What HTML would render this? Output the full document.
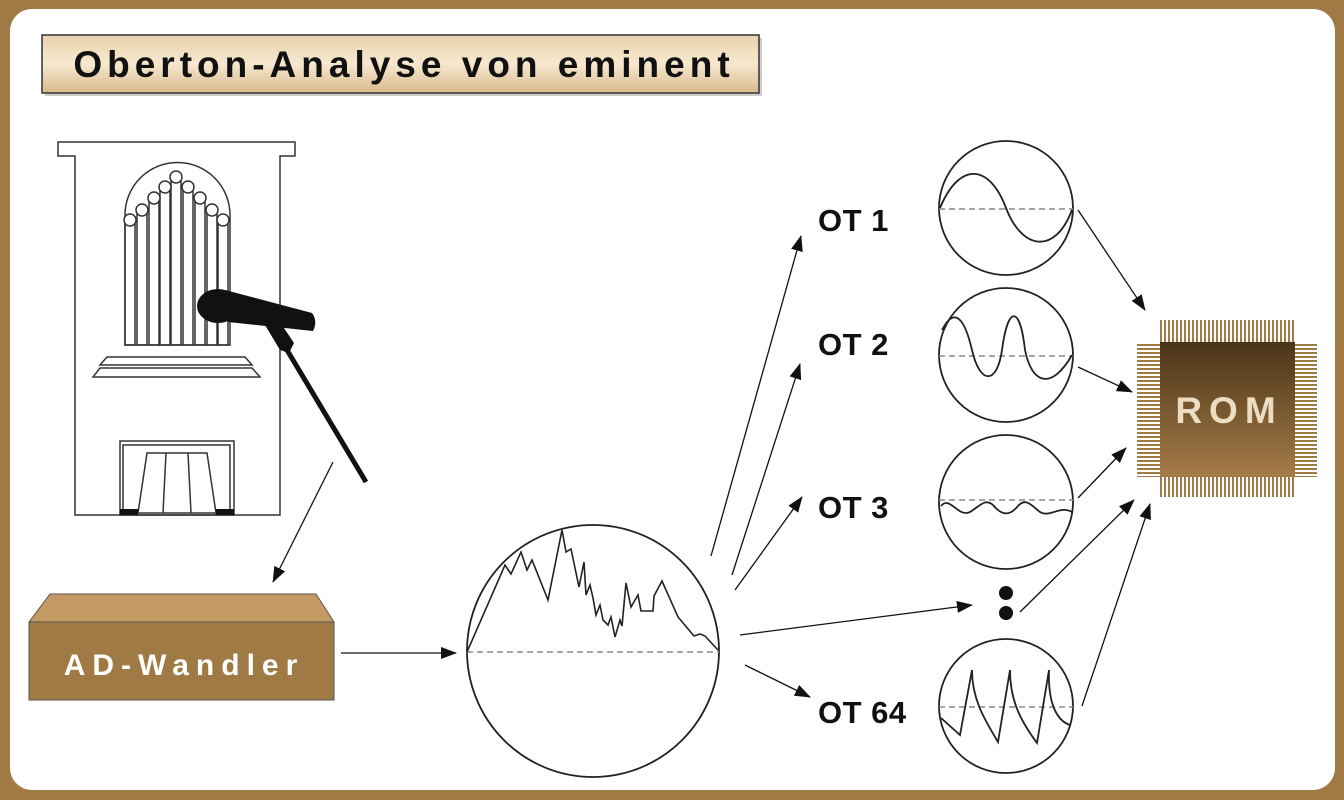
<!DOCTYPE html>
<html><head><meta charset="utf-8"><style>
html,body{margin:0;padding:0;background:#a07a45;}
body{width:1344px;height:800px;overflow:hidden;position:relative;}
</style></head><body>
<svg width="1344" height="800" viewBox="0 0 1344 800" xmlns="http://www.w3.org/2000/svg" style="position:absolute;left:0;top:0">
<defs>
<linearGradient id="tg" x1="0" y1="0" x2="0" y2="1"><stop offset="0" stop-color="#e8d2ac"/><stop offset="0.5" stop-color="#f6e8cf"/><stop offset="1" stop-color="#d9b98a"/></linearGradient>
<linearGradient id="rg" x1="0" y1="0" x2="0" y2="1"><stop offset="0" stop-color="#4b3418"/><stop offset="1" stop-color="#a57c48"/></linearGradient>
<pattern id="pv" width="4" height="10" patternUnits="userSpaceOnUse"><rect width="2" height="10" fill="#a07a45"/></pattern>
<pattern id="ph" width="10" height="4" patternUnits="userSpaceOnUse"><rect width="10" height="2" fill="#a07a45"/></pattern>
<marker id="ah" markerWidth="16" markerHeight="12" refX="15" refY="6" orient="auto" markerUnits="userSpaceOnUse"><path d="M0,0 L16,6 L0,12 Z" fill="#111"/></marker>
</defs>
<rect x="0" y="0" width="1344" height="800" fill="#a07a45"/>
<rect x="10" y="9" width="1325" height="781" rx="22" fill="#fff"/>
<!-- title -->
<rect x="45" y="38" width="717" height="58" fill="#999" opacity="0.5"/>
<rect x="42" y="35" width="717" height="58" fill="url(#tg)" stroke="#333" stroke-width="1.5"/>
<text x="404" y="77" text-anchor="middle" font-family="Liberation Sans, sans-serif" font-weight="bold" font-size="37" letter-spacing="5" fill="#111">Oberton-Analyse von eminent</text>
<!-- organ -->
<g fill="none" stroke="#333" stroke-width="1.5">
<path d="M58,142 H295 V156 H280 V515 H75 V156 H58 Z" fill="#fff"/>
<path d="M125,345 V215 A52,52 0 0 1 230,215 V345 Z"/>
<g>
<rect x="125" y="220" width="10" height="125"/><rect x="137" y="210" width="10" height="135"/><rect x="149" y="198" width="10" height="147"/><rect x="160" y="187" width="10" height="158"/><rect x="171" y="177" width="10" height="168"/><rect x="183" y="187" width="10" height="158"/><rect x="195" y="198" width="10" height="147"/><rect x="207" y="210" width="10" height="135"/><rect x="218" y="220" width="10" height="125"/>
</g>
<g fill="#fff">
<circle cx="130" cy="220" r="6"/><circle cx="142" cy="210" r="6"/><circle cx="154" cy="198" r="6"/><circle cx="165" cy="187" r="6"/><circle cx="176" cy="177" r="6"/><circle cx="188" cy="187" r="6"/><circle cx="200" cy="198" r="6"/><circle cx="212" cy="210" r="6"/><circle cx="223" cy="220" r="6"/>
</g>
<path d="M107,357 H245 L252,365 H100 Z"/>
<path d="M100,368 H252 L260,377 H93 Z"/>
<rect x="120" y="441" width="114" height="74"/>
<path d="M123,515 V445 H230 V515"/>
<path d="M147,453 H207 L216,513 H138 Z"/>
<path d="M166,453 L163,513 M188,453 L191,513"/>
</g>
<rect x="120" y="509" width="18" height="6" fill="#111"/><rect x="216" y="509" width="18" height="6" fill="#111"/>
<!-- mic -->
<ellipse cx="218" cy="306" rx="21" ry="17" fill="#111"/>
<path d="M225,290 L312,313 Q318,321 313,331 L228,322 Z" fill="#111"/>
<path d="M262,320 L280,322 L294,343 L289,353 L280,350 Z" fill="#111"/>
<line x1="284" y1="345" x2="366" y2="482" stroke="#111" stroke-width="5"/>
<!-- arrow mic to AD -->
<line x1="333" y1="462" x2="273" y2="582" stroke="#111" stroke-width="1.3" marker-end="url(#ah)"/>
<!-- AD box -->
<path d="M29,622 L50,594 H316 L334,622 Z" fill="#c49a62" stroke="#555" stroke-width="1"/>
<rect x="29" y="622" width="305" height="78" fill="#a07a45" stroke="#555" stroke-width="1"/>
<text x="184" y="675" text-anchor="middle" font-family="Liberation Sans, sans-serif" font-weight="bold" font-size="30" letter-spacing="7" fill="#fff">AD-Wandler</text>
<line x1="341" y1="653" x2="456" y2="653" stroke="#111" stroke-width="1.3" marker-end="url(#ah)"/>
<!-- big circle -->
<circle cx="593" cy="651" r="126" fill="none" stroke="#222" stroke-width="1.8"/>
<line x1="467" y1="652" x2="719" y2="652" stroke="#888" stroke-width="1.5" stroke-dasharray="6,4"/>
<polyline fill="none" stroke="#222" stroke-width="1.6" points="467,652 505,565 511,574 521,552 527,570 532,560 548,600 562,530 566,552 571,549 579,587 584,562 586,595 590,585 593,598 596,615 600,605 603,620 608,625 611,617 615,637 620,620 622,626 626,583 631,607 638,595 641,611 653,611 654,596 662,581 678,617 694,636 700,634 705,636 718,650"/>
<!-- arrows out -->
<g stroke="#111" stroke-width="1.3" marker-end="url(#ah)">
<line x1="711" y1="556" x2="801" y2="236"/>
<line x1="732" y1="575" x2="800" y2="364"/>
<line x1="735" y1="590" x2="802" y2="497"/>
<line x1="740" y1="635" x2="972" y2="605"/>
<line x1="745" y1="665" x2="810" y2="697"/>
<line x1="1078" y1="210" x2="1145" y2="310"/>
<line x1="1078" y1="367" x2="1132" y2="392"/>
<line x1="1078" y1="498" x2="1126" y2="448"/>
<line x1="1020" y1="612" x2="1134" y2="500"/>
<line x1="1082" y1="706" x2="1150" y2="504"/>
</g>
<!-- labels -->
<g font-family="Liberation Sans, sans-serif" font-weight="bold" font-size="31" fill="#111" letter-spacing="0.5">
<text x="818" y="231">OT 1</text>
<text x="818" y="355">OT 2</text>
<text x="818" y="518">OT 3</text>
<text x="818" y="723">OT 64</text>
</g>
<!-- OT circles -->
<g fill="none" stroke="#222" stroke-width="1.8">
<circle cx="1006" cy="208" r="67"/>
<circle cx="1006" cy="355" r="67"/>
<circle cx="1006" cy="502" r="67"/>
<circle cx="1006" cy="706" r="67"/>
</g>
<g stroke="#888" stroke-width="1.5" stroke-dasharray="6,4">
<line x1="939" y1="209" x2="1073" y2="209"/>
<line x1="939" y1="356" x2="1073" y2="356"/>
<line x1="939" y1="500" x2="1073" y2="500"/>
<line x1="939" y1="707" x2="1073" y2="707"/>
</g>
<g fill="none" stroke="#222" stroke-width="1.8">
<path d="M940,208 C960,160 990,165 1006,208 C1022,250 1055,255 1072,210"/>
<path d="M942,330 C955,305 965,320 972,350 C980,385 997,385 1002,350 C1008,305 1020,305 1025,350 C1032,385 1052,390 1072,355"/>
<path d="M941,506 C950,495 958,518 970,512 C980,506 985,498 993,505 C1002,516 1010,516 1018,506 C1026,497 1032,506 1040,512 C1050,518 1060,505 1072,512"/>
<path d="M941,718 L960,735 L972,670 C972,700 985,720 998,742 L1010,670 C1010,700 1020,720 1037,743 L1049,670 C1048,700 1055,720 1070,725"/>
</g>
<circle cx="1006" cy="593" r="7" fill="#111"/>
<circle cx="1006" cy="613" r="7" fill="#111"/>
<!-- ROM chip -->
<rect x="1160" y="320" width="135" height="22" fill="url(#pv)"/>
<rect x="1160" y="477" width="135" height="20" fill="url(#pv)"/>
<rect x="1137" y="342" width="23" height="135" fill="url(#ph)"/>
<rect x="1295" y="342" width="22" height="135" fill="url(#ph)"/>
<rect x="1160" y="342" width="135" height="135" fill="url(#rg)"/>
<text x="1229" y="423" text-anchor="middle" font-family="Liberation Sans, sans-serif" font-weight="bold" font-size="37" letter-spacing="7" fill="#ecdcc2">ROM</text>
</svg>
</body></html>
